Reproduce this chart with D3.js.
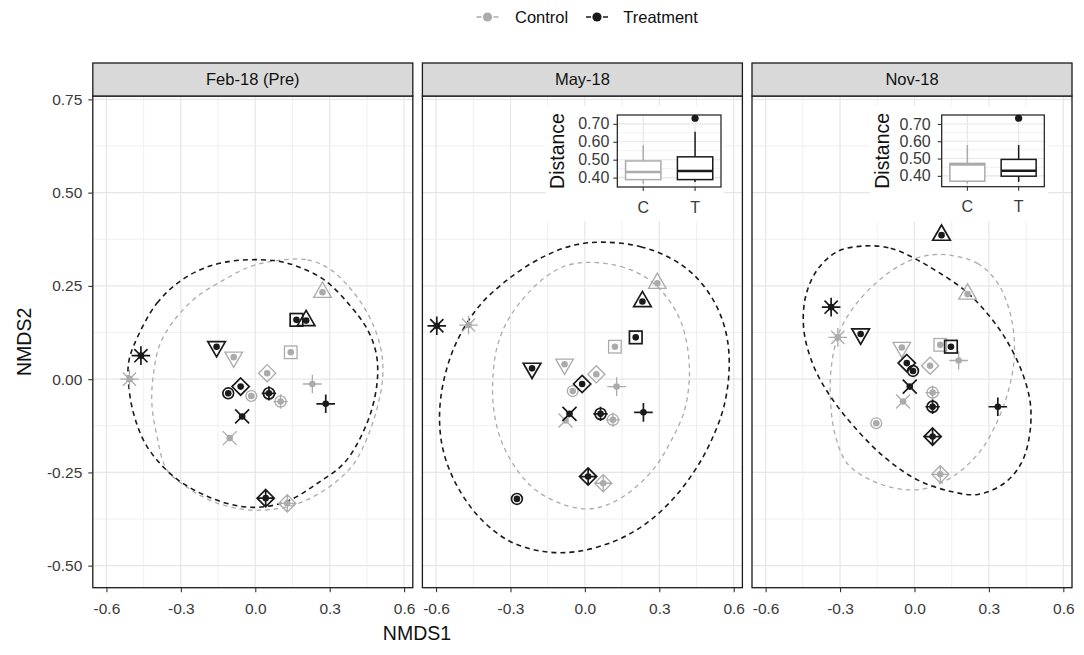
<!DOCTYPE html>
<html>
<head>
<meta charset="utf-8">
<script src="https://cdn.jsdelivr.net/npm/d3@7"></script>
<style>
  body { margin: 0; background: #fff; }
  svg { display: block; }
  text { font-family: 'Liberation Sans', Arial, sans-serif; }
</style>
</head>
<body>
<div class="canvas"></div>
<script>
// ---- data ----
const panelNames = ['Feb-18 (Pre)', 'May-18', 'Nov-18'];
const groups = ['Control', 'Treatment'];
// one shape per subject, same order in every array below
const subjShapes = ['tri', 'sq', 'dtri', 'dia', 'circ', 'cross', 'plus', 'ast', 'diaplus', 'circplus'];

const ctrlX = [
  [0.271, 0.143, -0.087, 0.048, -0.016, -0.103, 0.230, -0.507, 0.129, 0.102],
  [0.292, 0.121, -0.082, 0.046, -0.049, -0.078, 0.128, -0.469, 0.074, 0.113],
  [0.214, 0.104, -0.051, 0.063, -0.154, -0.046, 0.178, -0.309, 0.104, 0.073]
];
const ctrlY = [
  [0.233, 0.072, 0.059, 0.016, -0.045, -0.158, -0.013, 0.000, -0.333, -0.060],
  [0.257, 0.087, 0.040, 0.013, -0.032, -0.111, -0.020, 0.145, -0.279, -0.109],
  [0.228, 0.092, 0.085, 0.036, -0.118, -0.060, 0.050, 0.112, -0.255, -0.036]
];
const trtX = [
  [0.205, 0.166, -0.156, -0.059, -0.109, -0.053, 0.284, -0.461, 0.042, 0.055],
  [0.232, 0.205, -0.213, -0.011, -0.274, -0.062, 0.236, -0.597, 0.013, 0.063],
  [0.109, 0.147, -0.217, -0.031, -0.006, -0.019, 0.336, -0.336, 0.073, 0.073]
];
const trtY = [
  [0.157, 0.159, 0.087, -0.020, -0.038, -0.100, -0.066, 0.063, -0.319, -0.038],
  [0.208, 0.112, 0.029, -0.013, -0.321, -0.093, -0.089, 0.143, -0.261, -0.093],
  [0.386, 0.087, 0.121, 0.043, 0.022, -0.020, -0.074, 0.193, -0.154, -0.074]
];

// dashed ellipse outlines (NMDS units)
const ctrlRing = [
  [[0.089,0.318],[0.210,0.320],[0.305,0.293],[0.399,0.230],[0.466,0.159],[0.507,0.079],[0.514,0.007],
   [0.493,-0.073],[0.453,-0.154],[0.399,-0.225],[0.318,-0.279],[0.210,-0.323],[0.102,-0.346],[-0.032,-0.350],
   [-0.154,-0.332],[-0.261,-0.296],[-0.356,-0.243],[-0.396,-0.154],[-0.417,-0.064],[-0.410,0.016],
   [-0.383,0.096],[-0.315,0.168],[-0.235,0.221],[-0.127,0.266],[-0.019,0.302]],
  [[0.009,0.313],[0.144,0.302],[0.252,0.270],[0.333,0.217],[0.387,0.154],[0.414,0.083],[0.421,0.002],
   [0.400,-0.087],[0.346,-0.167],[0.279,-0.239],[0.184,-0.301],[0.090,-0.337],[0.009,-0.348],[-0.099,-0.333],
   [-0.206,-0.293],[-0.287,-0.230],[-0.341,-0.158],[-0.368,-0.078],[-0.371,0.002],[-0.355,0.083],
   [-0.314,0.154],[-0.247,0.217],[-0.166,0.270],[-0.085,0.302]],
  [[0.133,0.333],[0.255,0.310],[0.336,0.257],[0.389,0.168],[0.403,0.069],[0.383,-0.020],[0.336,-0.110],
   [0.268,-0.190],[0.174,-0.252],[0.053,-0.292],[-0.055,-0.295],[-0.177,-0.270],[-0.271,-0.226],
   [-0.318,-0.154],[-0.338,-0.065],[-0.335,0.034],[-0.305,0.123],[-0.244,0.194],[-0.150,0.261],
   [-0.055,0.306],[0.039,0.330]]
];
const trtRing = [
  [[-0.491,0.088],[-0.396,0.204],[-0.275,0.275],[-0.127,0.313],[0.075,0.318],[0.170,0.302],[0.278,0.266],
   [0.385,0.195],[0.453,0.132],[0.487,0.070],[0.493,0.007],[0.473,-0.073],[0.426,-0.154],[0.358,-0.225],
   [0.251,-0.279],[0.143,-0.323],[0.049,-0.341],[-0.059,-0.341],[-0.194,-0.314],[-0.329,-0.261],
   [-0.437,-0.180],[-0.491,-0.091],[-0.511,-0.011],[-0.511,0.043]],
  [[0.090,0.367],[0.225,0.355],[0.346,0.324],[0.440,0.279],[0.521,0.208],[0.568,0.127],[0.582,0.038],
   [0.562,-0.069],[0.508,-0.167],[0.440,-0.248],[0.346,-0.328],[0.238,-0.391],[0.117,-0.435],[-0.031,-0.462],
   [-0.166,-0.462],[-0.301,-0.435],[-0.422,-0.373],[-0.517,-0.284],[-0.570,-0.194],[-0.586,-0.105],
   [-0.570,-0.007],[-0.517,0.100],[-0.422,0.199],[-0.287,0.279],[-0.152,0.333],[-0.031,0.361]],
  [[-0.203,0.357],[-0.096,0.351],[-0.001,0.324],[0.093,0.288],[0.201,0.239],[0.282,0.185],[0.362,0.114],
   [0.430,0.025],[0.467,-0.065],[0.463,-0.154],[0.430,-0.226],[0.362,-0.279],[0.255,-0.309],[0.147,-0.301],
   [0.012,-0.270],[-0.123,-0.208],[-0.244,-0.127],[-0.338,-0.047],[-0.406,0.034],[-0.446,0.132],
   [-0.439,0.221],[-0.392,0.293],[-0.311,0.342]]
];

const xTicks = [-0.6, -0.3, 0, 0.3, 0.6];
const xMinor = [-0.45, -0.15, 0.15, 0.45];
const yTicks = [0.75, 0.5, 0.25, 0, -0.25, -0.5];
const yMinor = [0.625, 0.375, 0.125, -0.125, -0.375];

// inset boxplots of distance (C = control, T = treatment): [low, q1, median, q3, high]
const boxGroups = ['C', 'T'];
const boxMay = [[0.366, 0.389, 0.431, 0.493, 0.581], [0.375, 0.389, 0.437, 0.516, 0.656]];
const boxNov = [[0.356, 0.369, 0.466, 0.472, 0.578], [0.365, 0.398, 0.429, 0.495, 0.578]];
const outMay = [0.731];
const outNov = [0.733];
const distTicks = [0.40, 0.50, 0.60, 0.70];
const distMinor = [0.45, 0.55, 0.65];

// ---- layout ----
const grey = '#ababab';
const ink = '#1a1a1a';
const axisInk = '#333333';
const gridCol = '#e6e6e6';

const svg = d3.select('.canvas')
  .append('svg')
  .attr('width', 1084)
  .attr('height', 655);

const margin = { top: 96, left: 92.8 };
const panelW = 320, gap = 9.6, stripH = 33;
const graphHeight = 587.7 - margin.top;

const x = d3.scaleLinear().domain([-0.655, 0.635]).range([0, panelW]);
const y = d3.scaleLinear().domain([-0.559, 0.759]).range([graphHeight, 0]);

const ring = d3.line()
  .x(d => x(d[0]))
  .y(d => y(d[1]))
  .curve(d3.curveCatmullRomClosed.alpha(0.5));

// ggplot-like point shapes with a filled dot in the middle
const drawShape = (g, shape, cx, cy, color, sw) => {
  const s = g.append('g')
    .attr('transform', `translate(${cx},${cy})`)
    .attr('stroke', color)
    .attr('stroke-width', sw)
    .attr('fill', 'none');
  const tri = 'M0,-10.2L8.8,5.1L-8.8,5.1Z';
  const dtri = 'M0,10.2L8.8,-5.1L-8.8,-5.1Z';
  const dia = 'M0,-8.6L8.6,0L0,8.6L-8.6,0Z';
  const plus = n => `M${-n},0H${n}M0,${-n}V${n}`;
  const cross = n => `M${-n},${-n}L${n},${n}M${-n},${n}L${n},${-n}`;
  switch (shape) {
    case 'tri': s.append('path').attr('d', tri); break;
    case 'dtri': s.append('path').attr('d', dtri); break;
    case 'sq': s.append('rect').attr('x', -6.3).attr('y', -6.3).attr('width', 12.6).attr('height', 12.6); break;
    case 'dia': s.append('path').attr('d', dia); break;
    case 'circ': s.append('circle').attr('r', 5.4); break;
    case 'cross': s.append('path').attr('d', cross(7)); break;
    case 'plus': s.append('path').attr('d', plus(9.3)); break;
    case 'ast': s.append('path').attr('d', plus(9.3) + cross(6.6)); break;
    case 'diaplus': s.append('path').attr('d', dia + plus(8.6)); break;
    case 'circplus':
      s.append('circle').attr('r', 5.6);
      s.append('path').attr('d', plus(7.2));
      break;
    default: break;
  }
  s.append('circle').attr('r', 3.3).attr('fill', color).attr('stroke', 'none');
};

const drawInset = (geo, stats, outs) => {
  const ig = svg.append('g');
  ig.append('rect')
    .attr('x', geo.bx0).attr('y', 106)
    .attr('width', geo.bx1 - geo.bx0).attr('height', 115)
    .attr('fill', '#fff');

  const all = stats.flat().concat(outs);
  const lo = d3.min(all), hi = d3.max(all), pad = (hi - lo) * 0.05;
  const iy = d3.scaleLinear().domain([lo - pad, hi + pad]).range([geo.y1, geo.y0]);
  const ix = d3.scaleBand().domain(boxGroups).range([geo.x0, geo.x1]).paddingOuter(0.1).paddingInner(0.2);
  const cxOf = d => ix(d) + ix.bandwidth() / 2;
  const bw = (geo.x1 - geo.x0) * 0.75 / 2.2;

  ig.selectAll('.iminor').data(distMinor).enter().append('line')
    .attr('x1', geo.x0).attr('x2', geo.x1)
    .attr('y1', d => iy(d)).attr('y2', d => iy(d))
    .attr('stroke', gridCol).attr('stroke-width', 0.6);
  ig.selectAll('.imajor').data(distTicks).enter().append('line')
    .attr('x1', geo.x0).attr('x2', geo.x1)
    .attr('y1', d => iy(d)).attr('y2', d => iy(d))
    .attr('stroke', gridCol).attr('stroke-width', 1.1);
  ig.selectAll('.ivert').data(boxGroups).enter().append('line')
    .attr('x1', cxOf).attr('x2', cxOf)
    .attr('y1', geo.y0).attr('y2', geo.y1)
    .attr('stroke', gridCol).attr('stroke-width', 1.1);

  stats.forEach((st, k) => {
    const col = k === 0 ? grey : ink;
    const c = cxOf(boxGroups[k]);
    ig.append('line').attr('x1', c).attr('x2', c).attr('y1', iy(st[0])).attr('y2', iy(st[1]))
      .attr('stroke', col).attr('stroke-width', 1.5);
    ig.append('line').attr('x1', c).attr('x2', c).attr('y1', iy(st[3])).attr('y2', iy(st[4]))
      .attr('stroke', col).attr('stroke-width', 1.5);
    ig.append('rect')
      .attr('x', c - bw / 2).attr('width', bw)
      .attr('y', iy(st[3])).attr('height', iy(st[1]) - iy(st[3]))
      .attr('fill', '#fff').attr('stroke', col).attr('stroke-width', 1.5);
    ig.append('line').attr('x1', c - bw / 2).attr('x2', c + bw / 2)
      .attr('y1', iy(st[2])).attr('y2', iy(st[2]))
      .attr('stroke', col).attr('stroke-width', 2.6);
  });
  ig.selectAll('.out').data(outs).enter().append('circle')
    .attr('cx', cxOf('T')).attr('cy', d => iy(d)).attr('r', 3.6).attr('fill', ink);

  ig.append('rect')
    .attr('x', geo.x0).attr('y', geo.y0)
    .attr('width', geo.x1 - geo.x0).attr('height', geo.y1 - geo.y0)
    .attr('fill', 'none').attr('stroke', ink).attr('stroke-width', 1.2);

  const yAx = ig.append('g').attr('transform', `translate(${geo.x0},0)`)
    .call(d3.axisLeft(iy).tickValues(distTicks).tickSize(4).tickPadding(geo.pad).tickFormat(d => d.toFixed(2)));
  const xAx = ig.append('g').attr('transform', `translate(0,${geo.y1})`)
    .call(d3.axisBottom(ix).tickSize(4).tickPadding(5));
  [yAx, xAx].forEach(a => {
    a.select('.domain').remove();
    a.selectAll('line').attr('stroke', axisInk).attr('stroke-width', 1.1);
    a.selectAll('text').attr('fill', '#3a3a3a').style('font-size', '16px').attr('font-family', null);
  });
  xAx.selectAll('text').attr('dy', null).attr('y', 25.5);

  ig.append('text')
    .attr('transform', `translate(${geo.x0 - 53},${(geo.y0 + geo.y1) / 2}) rotate(-90)`)
    .attr('text-anchor', 'middle')
    .style('font-size', '19.5px')
    .attr('fill', '#111')
    .text('Distance');
};

const insetGeo = [
  null,
  { x0: 617.3, x1: 721, y0: 115, y1: 187, bx0: 546, bx1: 724, pad: 4 },
  { x0: 941.7, x1: 1044.3, y0: 115, y1: 186.7, bx0: 870, bx1: 1048, pad: 7 }
];
const insetStats = [null, boxMay, boxNov];
const insetOuts = [null, outMay, outNov];

panelNames.forEach((name, i) => {
  const left = margin.left + i * (panelW + gap);
  const g = svg.append('g').attr('transform', `translate(${left},${margin.top})`);

  // grid
  g.selectAll('.vminor').data(xMinor).enter().append('line')
    .attr('x1', d => x(d)).attr('x2', d => x(d)).attr('y1', 0).attr('y2', graphHeight)
    .attr('stroke', gridCol).attr('stroke-width', 0.6);
  g.selectAll('.hminor').data(yMinor).enter().append('line')
    .attr('x1', 0).attr('x2', panelW).attr('y1', d => y(d)).attr('y2', d => y(d))
    .attr('stroke', gridCol).attr('stroke-width', 0.6);
  g.selectAll('.vmajor').data(xTicks).enter().append('line')
    .attr('x1', d => x(d)).attr('x2', d => x(d)).attr('y1', 0).attr('y2', graphHeight)
    .attr('stroke', gridCol).attr('stroke-width', 1.2);
  g.selectAll('.hmajor').data(yTicks).enter().append('line')
    .attr('x1', 0).attr('x2', panelW).attr('y1', d => y(d)).attr('y2', d => y(d))
    .attr('stroke', gridCol).attr('stroke-width', 1.2);

  // ellipses
  g.append('path').datum(ctrlRing[i]).attr('d', ring)
    .attr('fill', 'none').attr('stroke', grey).attr('stroke-width', 1.3).attr('stroke-dasharray', '4.5,4');
  g.append('path').datum(trtRing[i]).attr('d', ring)
    .attr('fill', 'none').attr('stroke', ink).attr('stroke-width', 1.6).attr('stroke-dasharray', '5,4');

  // points
  subjShapes.forEach((s, k) => drawShape(g, s, x(ctrlX[i][k]), y(ctrlY[i][k]), grey, 1.3));
  subjShapes.forEach((s, k) => drawShape(g, s, x(trtX[i][k]), y(trtY[i][k]), ink, 1.7));

  // panel border
  g.append('rect')
    .attr('width', panelW).attr('height', graphHeight)
    .attr('fill', 'none').attr('stroke', ink).attr('stroke-width', 1.3);

  // strip
  g.append('rect')
    .attr('y', -stripH).attr('width', panelW).attr('height', stripH)
    .attr('fill', '#d9d9d9').attr('stroke', ink).attr('stroke-width', 1.3);
  g.append('text')
    .attr('x', panelW / 2).attr('y', -stripH / 2)
    .attr('dy', '0.36em')
    .attr('text-anchor', 'middle')
    .style('font-size', '16.5px')
    .attr('fill', '#111')
    .text(name);

  // x axis
  const xAxisGroup = g.append('g').attr('transform', `translate(0,${graphHeight})`)
    .call(d3.axisBottom(x).tickValues(xTicks).tickSize(4.5).tickFormat(d => d.toFixed(1)));
  xAxisGroup.select('.domain').remove();
  xAxisGroup.selectAll('line').attr('stroke', axisInk).attr('stroke-width', 1.1);
  xAxisGroup.selectAll('text')
    .attr('dy', null).attr('y', 26)
    .attr('fill', '#3a3a3a').attr('font-family', null).style('font-size', '15.5px');

  if (i === 0) {
    const yAxisGroup = g.append('g')
      .call(d3.axisLeft(y).tickValues(yTicks).tickSize(4.5).tickPadding(6).tickFormat(d => d.toFixed(2)));
    yAxisGroup.select('.domain').remove();
    yAxisGroup.selectAll('line').attr('stroke', axisInk).attr('stroke-width', 1.1);
    yAxisGroup.selectAll('text')
      .attr('fill', '#3a3a3a').attr('font-family', null).style('font-size', '15.5px');
  }

  if (insetGeo[i]) drawInset(insetGeo[i], insetStats[i], insetOuts[i]);
});

// axis titles
svg.append('text')
  .attr('x', 417).attr('y', 640)
  .attr('text-anchor', 'middle')
  .style('font-size', '19.5px')
  .attr('fill', '#111')
  .text('NMDS1');
svg.append('text')
  .attr('transform', `translate(31,${margin.top + graphHeight / 2}) rotate(-90)`)
  .attr('text-anchor', 'middle')
  .style('font-size', '19.5px')
  .attr('fill', '#111')
  .text('NMDS2');

// legend
const legendKeyX = [487.5, 597];
const legendTextX = [515, 623.3];
groups.forEach((name, k) => {
  const col = k === 0 ? grey : ink;
  const lg = svg.append('g');
  lg.append('line')
    .attr('x1', legendKeyX[k] - 11).attr('x2', legendKeyX[k] + 11)
    .attr('y1', 17).attr('y2', 17)
    .attr('stroke', col).attr('stroke-width', 1.5).attr('stroke-dasharray', '5,12');
  lg.append('circle')
    .attr('cx', legendKeyX[k]).attr('cy', 17).attr('r', 4.6).attr('fill', col);
  lg.append('text')
    .attr('x', legendTextX[k]).attr('y', 23)
    .style('font-size', '16.5px')
    .attr('fill', '#111')
    .text(name);
});
</script>
</body>
</html>
